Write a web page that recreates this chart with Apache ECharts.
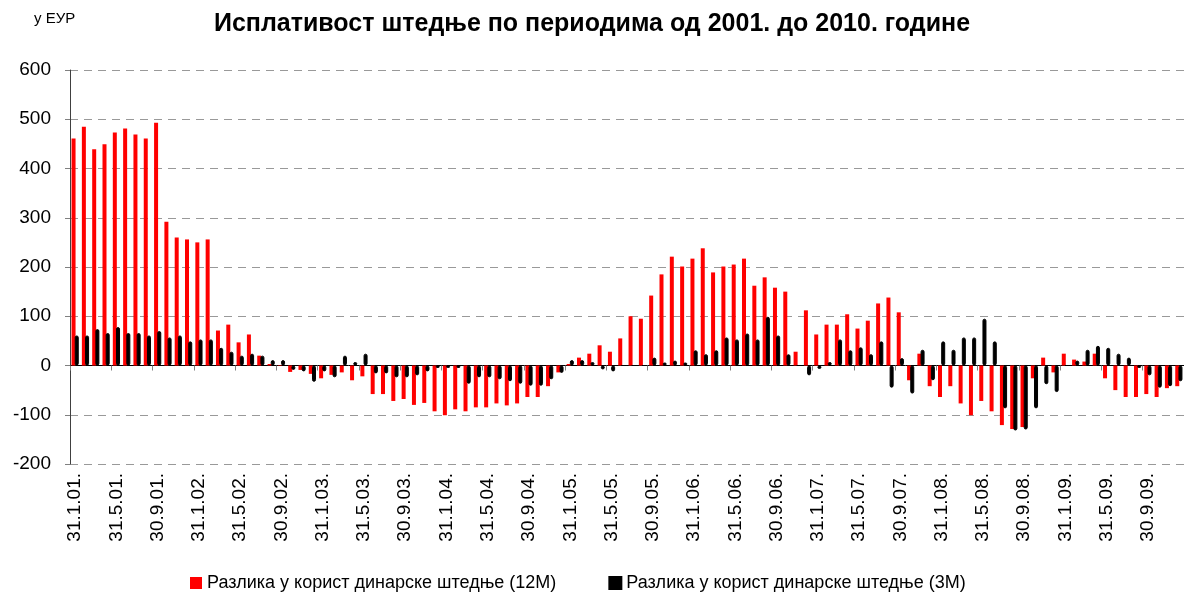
<!DOCTYPE html>
<html>
<head>
<meta charset="utf-8">
<script src="https://cdn.jsdelivr.net/npm/echarts@6/dist/echarts.min.js"></script>
<style>
  html, body { margin: 0; padding: 0; background: #fff; }
  #chart { width: 1184px; height: 607px; }
</style>
</head>
<body>
<div id="chart"></div>
<script>
// месеци од 31.1.01. до 31.12.09. (крај месеца)
const years = ['01', '02', '03', '04', '05', '06', '07', '08', '09']
const monthEnds = [31, 28, 31, 30, 31, 30, 31, 31, 30, 31, 30, 31]
const categories = []
years.forEach(y => {
  monthEnds.forEach((d, m) => {
    categories.push(d + '.' + (m + 1) + '.' + y + '.')
  })
})

// Разлика у корист динарске штедње (12M)
const diff12M = [
  461, 485, 439, 449, 473, 481, 469, 461, 493, 292, 260, 256,
  250, 256, 71, 83, 47, 63, 20, 3, 1, -13, -9, -17,
  -26, -19, -14, -30, -22, -58, -58, -72, -68, -80, -76, -93,
  -101, -89, -93, -85, -85, -77, -81, -77, -64, -64, -42, -14,
  3, 16, 24, 41, 28, 55, 100, 95, 142, 185, 221, 201,
  217, 238, 189, 201, 205, 217, 162, 179, 158, 150, 28, 112,
  63, 83, 83, 104, 75, 91, 126, 138, 108, -30, 24, -42,
  -64, -42, -77, -101, -72, -93, -121, -129, -125, -26, 16, -14,
  24, 12, 8, 24, -26, -50, -64, -64, -58, -64, -46, -42
]

// Разлика у корист динарске штедње (3M)
const diff3M = [
  61, 61, 74, 66, 78, 66, 66, 61, 70, 57, 61, 49,
  53, 53, 36, 28, 20, 24, 20, 11, 11, -9, -12, -33,
  -12, -24, 20, 7, 24, -16, -16, -24, -24, -20, -12, -5,
  -5, -5, -37, -24, -24, -28, -32, -37, -41, -41, -28, -15,
  11, 11, 7, -8, -12, 0, 0, 0, 16, 6, 10, 6,
  31, 23, 31, 57, 53, 65, 53, 99, 61, 23, 0, -20,
  -7, 7, 53, 31, 37, 23, 49, -45, 15, -57, 32, -30,
  49, 32, 57, 57, 95, 49, -87, -132, -130, -87, -38, -54,
  0, 10, 32, 40, 36, 24, 16, -5, -20, -45, -42, -32
]

const yTicks = { min: -200, max: 600, step: 100 }
const font = 'Liberation Sans, Arial, sans-serif'

const chart = echarts.init(document.getElementById('chart'))
chart.setOption({
  animation: false,
  backgroundColor: '#fff',
  title: [{
    text: 'Исплативост штедње по периодима од 2001. до 2010. године',
    left: 'center',
    top: 7,
    textStyle: { fontFamily: font, fontSize: 25, fontWeight: 'bold', color: '#000' }
  }, {
    text: 'у ЕУР',
    left: 29,
    top: 6,
    textStyle: { fontFamily: font, fontSize: 15, fontWeight: 'normal', color: '#000' }
  }],
  legend: {
    bottom: 10,
    left: 185,
    itemGap: 52,
    itemWidth: 12,
    itemHeight: 12,
    icon: 'rect',
    textStyle: { fontFamily: font, fontSize: 18, color: '#000' },
    data: ['Разлика у корист динарске штедње (12M)', 'Разлика у корист динарске штедње (3M)']
  },
  grid: { left: 70, right: 0, top: 70, height: 394 },
  xAxis: [{
    type: 'category',
    data: categories,
    position: 'bottom',
    axisLine: { show: false, onZero: false },
    axisTick: { show: false },
    axisLabel: {
      interval: 3,
      rotate: 90,
      margin: 9,
      fontFamily: font,
      fontSize: 19,
      color: '#000'
    }
  }, {
    type: 'category',
    data: categories,
    position: 'top',
    axisLine: { show: true, onZero: true, lineStyle: { color: '#000', width: 1 } },
    axisTick: { show: true, inside: true, interval: 3, length: 5, lineStyle: { color: '#808080' } },
    axisLabel: { show: false }
  }],
  yAxis: {
    type: 'value',
    min: yTicks.min,
    max: yTicks.max,
    interval: yTicks.step,
    axisLine: { show: true, lineStyle: { color: '#404040' } },
    axisTick: { show: true, length: 5, lineStyle: { color: '#808080' } },
    axisLabel: { fontFamily: font, fontSize: 19, color: '#000', margin: 19 },
    splitLine: { lineStyle: { color: '#999', type: [8, 6], width: 1 } }
  },
  series: [{
    name: 'Разлика у корист динарске штедње (12M)',
    type: 'bar',
    data: diff12M,
    barWidth: 4,
    barGap: '-20%',
    itemStyle: { color: '#ff0000' }
  }, {
    name: 'Разлика у корист динарске штедње (3M)',
    type: 'bar',
    data: diff3M,
    barWidth: 4,
    barGap: '-20%',
    itemStyle: { color: '#000', borderColor: '#000', borderWidth: 1, borderRadius: 2 }
  }]
})
</script>
</body>
</html>
